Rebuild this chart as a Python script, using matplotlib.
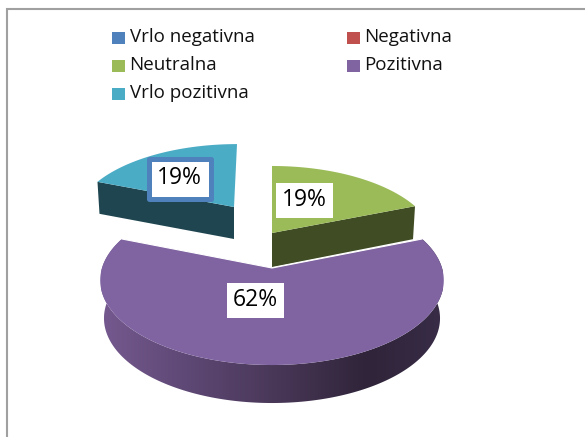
import numpy as np
import matplotlib
matplotlib.use("Agg")
import matplotlib.pyplot as plt
from matplotlib.patches import Polygon, Rectangle
from matplotlib.colors import LinearSegmentedColormap

categories = ["Vrlo negativna", "Negativna", "Neutralna", "Pozitivna", "Vrlo pozitivna"]
shares = [0, 0, 19, 62, 19]
share_labels = ["19%", "62%", "19%"]
colors = ["#4F81BD", "#C0504D", "#9BBB59", "#8064A2", "#4BACC6"]

plt.rcParams["font.family"] = ["Open Sans", "DejaVu Sans"]

fig = plt.figure(figsize=(5.85, 4.37), dpi=100)
ax = fig.add_axes([0, 0, 1, 1])
ax.set_xlim(0, 585)
ax.set_ylim(437, 0)
ax.axis("off")

# slices go clockwise from the top, starting at the first category
edges = np.cumsum([0] + shares) / sum(shares) * 360


def project(theta, apex, a, b, shear=0.0, k=0.1445):
    # fake perspective for a tilted disc
    t = np.radians(theta)
    u = np.sin(t)
    v = np.cos(t)
    w = 1 + k * v
    y_off = -v * b / w
    return apex[0] + u * a / w + shear * y_off, apex[1] + y_off


def face(start, stop, apex, a, b, shear=0.0):
    th = np.linspace(start, stop, 120)
    x, y = project(th, apex, a, b, shear)
    return np.column_stack([np.r_[apex[0], x], np.r_[apex[1], y]])


# frame
ax.plot([6.5, 6.5, 585], [437, 8.5, 8.5], color="#a0a0a0", lw=1.5, solid_joinstyle="miter")

# teal slice
teal_apex = (234, 207)
p = face(edges[4], edges[5], teal_apex, 156, 72, -0.048)
corner = p[1]
ax.add_patch(Polygon([teal_apex, corner, (corner[0] + 2, corner[1] + 32),
                      (teal_apex[0], teal_apex[1] + 32)], fc="#1F4650", ec="none"))
ax.add_patch(Polygon(p, fc=colors[4], ec="none"))

# green slice
green_apex = (272, 233)
p = face(edges[2], edges[3], green_apex, 162, 76.7)
corner = p[-1]
ax.add_patch(Polygon([green_apex, corner, (corner[0] - 2, corner[1] + 33),
                      (green_apex[0], green_apex[1] + 34)], fc="#404D24", ec="none"))
ax.add_patch(Polygon(p, fc=colors[2], ec="none"))

# purple slice, curved wall gets a gradient
purple_apex = (272, 268)
th = np.linspace(edges[3], edges[4], 200)
x, y = project(th, purple_apex, 170, 83)
xb = purple_apex[0] + (x - purple_apex[0]) * 0.978
yb = y + 38
wall = Polygon(np.column_stack([np.r_[x, xb[::-1]], np.r_[y, yb[::-1]]]), fc="none", ec="none")
ax.add_patch(wall)
cmap = LinearSegmentedColormap.from_list("wall", [(0, "#75598F"), (0.25, "#5E4875"),
                                                  (0.5, "#4A3859"), (0.78, "#2F2439"),
                                                  (1, "#382C47")])
img = ax.imshow(np.linspace(0, 1, 256)[None, :], extent=(101, 443, 437, 200), cmap=cmap,
                aspect="auto", zorder=1)
img.set_clip_path(wall)
ax.set_xlim(0, 585)
ax.set_ylim(437, 0)
ax.add_patch(Polygon(face(edges[3], edges[4], purple_apex, 170, 83), fc=colors[3],
                     ec="none", zorder=2))
ax.plot([x[0], purple_apex[0], x[-1]], [y[0], purple_apex[1], y[-1]], color="white", lw=0.8, zorder=2)

# data labels
ax.add_patch(Rectangle((148.5, 158.5), 62, 40, fc="white", ec=colors[0], lw=3.6,
                       joinstyle="round", zorder=3))
ax.text(179.5, 178.5, share_labels[2], ha="center", va="center", fontsize=16.5, zorder=4)
ax.add_patch(Rectangle((276, 183), 57, 35, fc="white", ec="none", zorder=3))
ax.text(304.5, 200.5, share_labels[0], ha="center", va="center", fontsize=16.5, zorder=4)
ax.add_patch(Rectangle((227, 283), 57, 35, fc="white", ec="none", zorder=3))
ax.text(255.5, 300.5, share_labels[1], ha="center", va="center", fontsize=16.5, zorder=4)

# legend
legend_x = [112, 347, 112, 347, 112]
legend_y = [38, 38, 66, 66, 94]
for name, col, lx, ly in zip(categories, colors, legend_x, legend_y):
    ax.add_patch(Rectangle((lx, ly - 6), 12.5, 12, fc=col, ec="none"))
    ax.text(lx + 17.5, ly - 1, name, ha="left", va="center", fontsize=13.5, color="#111111")

fig.savefig("out.png", dpi=100)
